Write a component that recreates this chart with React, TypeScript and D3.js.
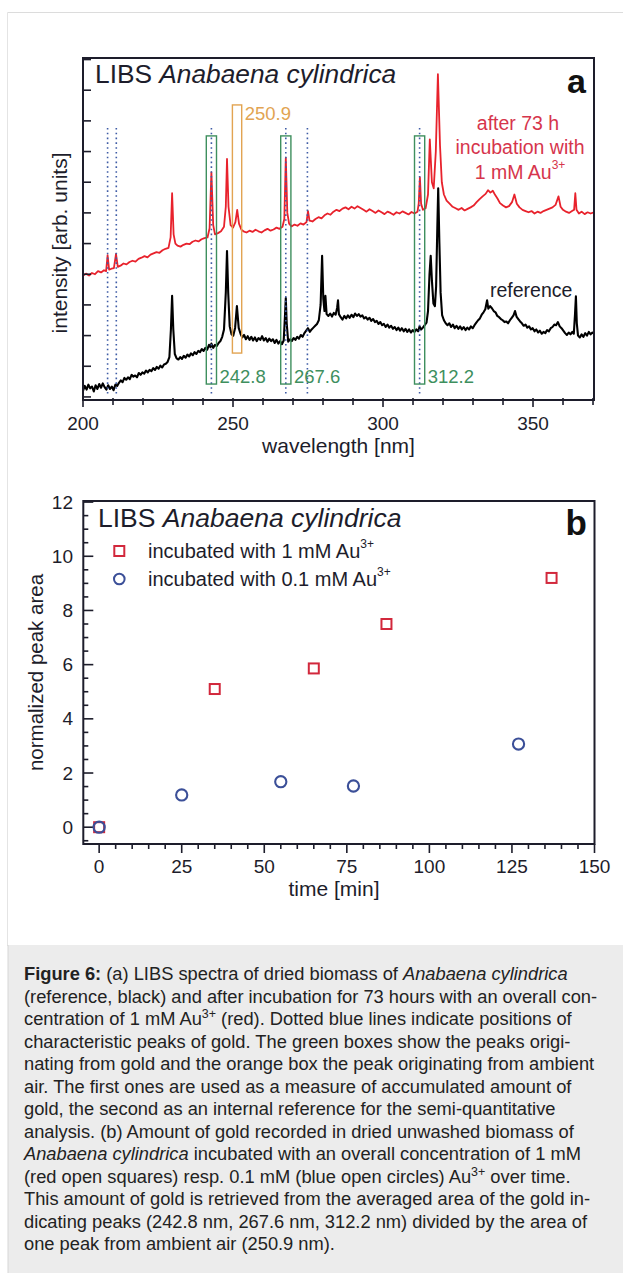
import React from 'react';
import * as d3 from 'd3';

const FONT = '"Liberation Sans", Arial, Helvetica, sans-serif';

// ---------- Panel a data ----------
const redSpectrum: [number, number][] = [
  [200, 39.5], [201, 40.2], [202, 39.6], [203, 40.4], [204, 40.0], [205, 41.0], [206, 40.6], [207, 41.3],
  [207.7, 41.0], [208.2, 46.2], [208.7, 41.5], [209.5, 41.8], [210.3, 42.0], [211.0, 46.6], [211.6, 42.4],
  [212.5, 42.8], [213.5, 43.5], [214.5, 43.2], [215.5, 44.0], [216.5, 44.4], [217.5, 44.1], [218.5, 45.0],
  [219.5, 45.4], [220.5, 45.9], [221.5, 45.5], [222.5, 46.4], [223.5, 46.8], [224.5, 47.2], [225.5, 47.0],
  [226.5, 47.8], [227.5, 48.3], [228.5, 48.6], [229.2, 52.0], [229.7, 66.4], [230.2, 53.0], [230.8, 50.0],
  [231.5, 49.3], [232.5, 49.0], [233.5, 49.6], [234.5, 50.0], [235.5, 49.8], [236.5, 50.6], [237.5, 51.0],
  [238.5, 50.7], [239.5, 51.4], [240.5, 51.8], [241.5, 52.0], [242.2, 55.0], [242.8, 73.2], [243.4, 56.0],
  [244.0, 53.0], [245.0, 53.4], [246.0, 54.0], [247.0, 55.5], [247.6, 62.0], [248.0, 77.6], [248.5, 62.0],
  [249.2, 56.0], [250.0, 55.2], [250.8, 57.0], [251.4, 61.0], [252.0, 56.5], [252.8, 54.5], [253.5, 54.0],
  [254.5, 53.6], [255.5, 54.2], [256.5, 53.8], [257.5, 54.5], [258.5, 54.0], [259.5, 53.6], [260.5, 54.3],
  [261.5, 54.8], [262.5, 54.2], [263.5, 54.6], [264.5, 55.2], [265.5, 54.8], [266.5, 55.5], [267.1, 58.0],
  [267.6, 78.0], [268.1, 60.0], [268.7, 56.5], [269.5, 55.6], [270.5, 56.2], [271.5, 55.8], [272.5, 56.6],
  [273.5, 56.2], [274.5, 57.0], [275.0, 60.6], [275.5, 57.5], [276.5, 57.2], [277.5, 58.0], [278.5, 58.6],
  [279.5, 58.2], [280.5, 59.2], [281.5, 59.8], [282.5, 59.4], [283.5, 60.4], [284.5, 61.0], [285.5, 60.6],
  [286.5, 61.4], [287.5, 61.8], [288.5, 61.2], [289.5, 62.0], [290.5, 61.4], [291.5, 62.2], [292.5, 61.6],
  [293.5, 61.0], [294.5, 60.4], [295.5, 61.2], [296.5, 60.6], [297.5, 60.0], [298.5, 60.8], [299.5, 60.2],
  [300.5, 59.6], [301.5, 60.4], [302.5, 60.0], [303.5, 59.4], [304.5, 60.2], [305.5, 59.8], [306.5, 60.5],
  [307.5, 60.0], [308.5, 59.5], [309.5, 60.3], [310.5, 59.8], [311.5, 60.4], [311.9, 63.0], [312.3, 71.6],
  [312.7, 63.0], [313.3, 61.0], [314.2, 61.5], [315.0, 66.0], [315.6, 84.0], [316.3, 70.0], [316.9, 68.0],
  [317.6, 80.0], [318.3, 105.2], [319.0, 82.0], [319.6, 70.0], [320.3, 66.0], [321.2, 64.0], [322.2, 63.0],
  [323.2, 62.0], [324.2, 61.5], [325.2, 61.0], [326.2, 61.6], [327.2, 60.8], [328.2, 61.3], [329.2, 61.8],
  [330.2, 62.4], [331.2, 63.5], [332.2, 64.5], [333.2, 65.4], [334.2, 66.2], [335.0, 67.4], [335.8, 66.6],
  [336.6, 67.2], [337.4, 65.8], [338.2, 64.6], [339.0, 63.2], [340.0, 62.4], [341.0, 61.8], [342.0, 62.2],
  [343.0, 63.5], [343.8, 66.0], [344.6, 63.0], [345.5, 61.8], [346.5, 61.0], [347.5, 60.6], [348.5, 60.2],
  [349.5, 60.6], [350.5, 59.8], [351.5, 60.4], [352.5, 60.0], [353.5, 60.6], [354.5, 61.0], [355.5, 61.4],
  [356.5, 61.8], [357.5, 62.6], [358.5, 65.4], [359.2, 62.0], [360.0, 61.0], [361.0, 60.4], [362.0, 60.0],
  [363.0, 60.6], [363.7, 61.0], [364.1, 66.4], [364.5, 61.0], [365.3, 59.8], [366.2, 60.4], [367.2, 59.6],
  [368.2, 60.2], [369.2, 59.8], [370.3, 60.2],
];

const blackSpectrum: [number, number][] = [
  [200, 2.0], [200.6, 3.6], [201.2, 2.4], [201.8, 4.0], [202.4, 2.8], [203, 3.4], [203.6, 1.8], [204.2, 3.8],
  [204.8, 2.6], [205.4, 4.2], [206, 3.0], [206.6, 4.4], [207.2, 3.2], [207.8, 2.4], [208.4, 3.8], [209, 2.6],
  [209.6, 3.4], [210.2, 2.2], [210.8, 4.0], [211.4, 3.6], [212, 4.6], [212.6, 5.4], [213.2, 4.8], [213.8, 6.2],
  [214.4, 5.6], [215, 6.4], [215.6, 5.8], [216.2, 7.2], [216.8, 6.6], [217.4, 7.0], [218, 6.4], [218.6, 7.8],
  [219.2, 7.2], [219.8, 8.0], [220.4, 7.6], [221, 8.6], [221.6, 8.0], [222.2, 8.8], [222.8, 8.4], [223.4, 9.4],
  [224, 8.8], [224.6, 9.8], [225.2, 9.2], [225.8, 10.2], [226.4, 9.6], [227, 10.6], [227.6, 10.8], [228.2, 11.4],
  [228.8, 13.0], [229.3, 22.0], [229.7, 33.0], [230.1, 22.0], [230.6, 14.0], [231.2, 12.6], [231.8, 12.2],
  [232.4, 13.0], [233, 12.4], [233.6, 13.4], [234.2, 12.8], [234.8, 13.8], [235.4, 13.2], [236, 14.2],
  [236.6, 13.6], [237.2, 14.6], [237.8, 14.0], [238.4, 15.0], [239, 14.6], [239.6, 15.6], [240.2, 15.0],
  [240.8, 16.0], [241.4, 15.4], [242.0, 17.0], [242.5, 16.2], [242.8, 17.4], [243.4, 16.0], [244, 17.0],
  [244.6, 16.6], [245.2, 17.6], [245.8, 18.2], [246.4, 19.6], [247, 22.0], [247.6, 34.0], [248.0, 47.6],
  [248.4, 34.0], [248.9, 23.0], [249.5, 20.4], [250.1, 20.0], [250.7, 22.5], [251.3, 29.6], [251.9, 22.5],
  [252.5, 20.6], [253.1, 19.4], [253.7, 20.2], [254.3, 18.8], [254.9, 19.8], [255.5, 18.6], [256.1, 19.6],
  [256.7, 18.4], [257.3, 19.4], [257.9, 18.2], [258.5, 19.2], [259.1, 18.6], [259.7, 19.8], [260.3, 18.4],
  [260.9, 19.2], [261.5, 18.0], [262.1, 19.0], [262.7, 18.2], [263.3, 18.8], [263.9, 17.6], [264.5, 18.6],
  [265.1, 17.4], [265.7, 18.2], [266.3, 17.2], [266.9, 18.4], [267.3, 26.0], [267.6, 32.2], [267.9, 24.0],
  [268.4, 18.0], [269, 18.8], [269.6, 18.2], [270.2, 19.2], [270.8, 18.6], [271.4, 19.6], [272, 19.0],
  [272.6, 20.2], [273.2, 19.6], [273.8, 20.8], [274.4, 21.6], [275, 22.4], [275.6, 21.2], [276.2, 22.0],
  [276.8, 22.6], [277.4, 23.2], [278, 23.8], [278.6, 25.0], [279.2, 30.0], [279.7, 46.0], [280.1, 32.0],
  [280.5, 28.0], [280.8, 33.0], [281.2, 27.0], [281.8, 26.4], [282.4, 27.2], [283, 26.2], [283.6, 27.4],
  [284.2, 26.8], [284.7, 29.0], [285.0, 31.5], [285.3, 27.0], [285.9, 26.0], [286.5, 25.2], [287.1, 26.4],
  [287.7, 25.6], [288.3, 26.6], [288.9, 25.8], [289.5, 26.8], [290.1, 26.0], [290.7, 27.2], [291.3, 26.4],
  [291.9, 27.0], [292.5, 26.2], [293.1, 26.6], [293.7, 25.6], [294.3, 26.0], [294.9, 25.2], [295.5, 25.8],
  [296.1, 24.8], [296.7, 25.4], [297.3, 24.4], [297.9, 24.8], [298.5, 23.8], [299.1, 24.4], [299.7, 23.4],
  [300.3, 23.8], [300.9, 22.8], [301.5, 23.6], [302.1, 22.6], [302.7, 23.2], [303.3, 22.2], [303.9, 22.8],
  [304.5, 21.8], [305.1, 22.6], [305.7, 21.6], [306.3, 22.4], [306.9, 21.4], [307.5, 22.2], [308.1, 21.2],
  [308.7, 22.0], [309.3, 21.0], [309.9, 21.8], [310.5, 21.2], [311.1, 22.0], [311.7, 21.4], [312.2, 23.0],
  [312.7, 22.0], [313.3, 22.6], [313.9, 23.4], [314.5, 24.2], [315.0, 28.0], [315.5, 40.0], [315.9, 46.0],
  [316.3, 38.0], [316.8, 30.5], [317.3, 29.6], [317.7, 36.0], [318.1, 55.0], [318.4, 68.0], [318.8, 50.0],
  [319.2, 34.0], [319.7, 26.7], [320.3, 25.0], [320.9, 24.0], [321.5, 23.4], [322.1, 24.0], [322.7, 22.8],
  [323.3, 23.6], [323.9, 22.4], [324.5, 23.2], [325.1, 22.2], [325.7, 23.0], [326.3, 22.0], [326.9, 22.8],
  [327.5, 21.8], [328.1, 22.6], [328.7, 22.0], [329.3, 23.0], [329.9, 22.4], [330.5, 23.4], [331.1, 24.2],
  [331.7, 25.0], [332.3, 25.6], [332.9, 26.8], [333.5, 27.6], [334.1, 28.6], [334.7, 31.5], [335.1, 28.8],
  [335.7, 29.6], [336.3, 28.9], [336.9, 28.0], [337.5, 27.6], [338.1, 26.4], [338.7, 26.0], [339.3, 25.4],
  [339.9, 25.0], [340.5, 24.4], [341.1, 24.6], [341.7, 24.0], [342.3, 25.0], [342.9, 25.8], [343.5, 26.6],
  [344.0, 28.0], [344.5, 26.2], [345.1, 25.4], [345.7, 24.6], [346.3, 24.0], [346.9, 23.2], [347.5, 23.6],
  [348.1, 22.6], [348.7, 23.0], [349.3, 22.0], [349.9, 22.4], [350.5, 21.4], [351.1, 22.0], [351.7, 21.0],
  [352.3, 21.6], [352.9, 20.6], [353.5, 21.2], [354.1, 20.8], [354.7, 21.8], [355.3, 21.4], [355.9, 22.4],
  [356.5, 22.8], [357.1, 23.6], [357.7, 23.4], [358.3, 24.4], [358.9, 23.0], [359.5, 22.4], [360.1, 21.6],
  [360.7, 20.8], [361.3, 20.2], [361.9, 21.0], [362.5, 20.4], [363.1, 21.2], [363.6, 20.6], [364.0, 27.0],
  [364.3, 32.8], [364.6, 24.0], [365.0, 20.0], [365.6, 19.4], [366.2, 20.4], [366.8, 19.6], [367.4, 20.8],
  [368.0, 20.0], [368.6, 21.2], [369.2, 20.4], [369.8, 21.0], [370.3, 20.6],
];

const goldLines = [208.2, 211.1, 242.8, 267.6, 274.8, 312.2];
const goldBoxes = [242.8, 267.6, 312.2];
const goldBoxLabels = ['242.8', '267.6', '312.2'];
const airBox = [249.8, 252.9];
const airBoxLabel = '250.9';
const wavelengthMajor = [200, 250, 300, 350];
const wavelengthMinor = [200, 210, 220, 230, 240, 250, 260, 270, 280, 290, 300, 310, 320, 330, 340, 350, 360, 370];
const intensityTicks = [0, 10, 20, 30, 40, 50, 60, 70, 80, 90, 100, 110];

// ---------- Panel b data ----------
const time1mM = [0, 35, 65, 87, 137];
const area1mM = [0, 5.1, 5.86, 7.5, 9.2];
const time01mM = [0, 25, 55, 77, 127];
const area01mM = [0, 1.19, 1.68, 1.52, 3.07];
const timeMajor = [0, 25, 50, 75, 100, 125, 150];
const timeMinor = [0, 5, 10, 15, 20, 25, 30, 35, 40, 45, 50, 55, 60, 65, 70, 75, 80, 85, 90, 95, 100, 105, 110, 115, 120, 125, 130, 135, 140, 145, 150];
const areaMajor = [0, 2, 4, 6, 8, 10, 12];
const areaMinor = [-0.5, 0, 0.5, 1, 1.5, 2, 2.5, 3, 3.5, 4, 4.5, 5, 5.5, 6, 6.5, 7, 7.5, 8, 8.5, 9, 9.5, 10, 10.5, 11, 11.5, 12];

type Seg = { t: string; b?: boolean; i?: boolean; sup?: boolean };
const captionLines: Seg[][] = [
  [{ t: 'Figure 6:', b: true }, { t: ' (a) LIBS spectra of dried biomass of ' }, { t: 'Anabaena cylindrica', i: true }],
  [{ t: '(reference, black) and after incubation for 73 hours with an overall con-' }],
  [{ t: 'centration of 1 mM Au' }, { t: '3+', sup: true }, { t: ' (red). Dotted blue lines indicate positions of' }],
  [{ t: 'characteristic peaks of gold. The green boxes show the peaks origi-' }],
  [{ t: 'nating from gold and the orange box the peak originating from ambient' }],
  [{ t: 'air. The first ones are used as a measure of accumulated amount of' }],
  [{ t: 'gold, the second as an internal reference for the semi-quantitative' }],
  [{ t: 'analysis. (b) Amount of gold recorded in dried unwashed biomass of' }],
  [{ t: 'Anabaena cylindrica', i: true }, { t: ' incubated with an overall concentration of 1 mM' }],
  [{ t: '(red open squares) resp. 0.1 mM (blue open circles) Au' }, { t: '3+', sup: true }, { t: ' over time.' }],
  [{ t: 'This amount of gold is retrieved from the averaged area of the gold in-' }],
  [{ t: 'dicating peaks (242.8 nm, 267.6 nm, 312.2 nm) divided by the area of' }],
  [{ t: 'one peak from ambient air (250.9 nm).' }],
];

const INK = '#1d1d2b';
const RED_LINE = '#e8222c';
const RED_TEXT = '#d6354c';
const BLUE_DOT = '#3f5ca6';
const GREEN = '#3e8f5e';
const ORANGE = '#e2a452';
const SQ_RED = '#d2283c';
const CIRC_BLUE = '#3b4f98';

function Caption({ lines, x, y0, dy, size }: { lines: Seg[][]; x: number; y0: number; dy: number; size: number }) {
  return (
    <g fontFamily={FONT} fontSize={size} fill="#222">
      {lines.map((segs, li) => {
        const out: React.ReactNode[] = [];
        let raised = false;
        segs.forEach((s, si) => {
          let shift = 0;
          if (s.sup && !raised) { shift = -7; raised = true; }
          else if (!s.sup && raised) { shift = 7; raised = false; }
          out.push(
            <tspan key={si} dy={shift} fontWeight={s.b ? 'bold' : 'normal'} fontStyle={s.i ? 'italic' : 'normal'}
              fontSize={s.sup ? size * 0.68 : size}>{s.t}</tspan>
          );
        });
        return (
          <text key={li} x={x} y={y0 + li * dy} style={{ whiteSpace: 'pre' }}>{out}</text>
        );
      })}
    </g>
  );
}

export default function App() {
  // Panel a scales
  const xA = d3.scaleLinear().domain([200, 370.33]).range([83, 594]);
  const yA = d3.scaleLinear().domain([-1, 110.5]).range([400, 58]);
  const lineA = d3.line<[number, number]>().x((d) => xA(d[0])).y((d) => yA(d[1]));

  // Panel b scales
  const xB = d3.scaleLinear().domain([-4.8, 150]).range([83.3, 594.5]);
  const yB = d3.scaleLinear().domain([-0.62, 12.04]).range([844, 501]);

  const aLeft = xA.range()[0], aRight = xA.range()[1];
  const aTop = yA.range()[1], aBottom = yA.range()[0];
  const bLeft = xB.range()[0], bRight = xB.range()[1];
  const bTop = yB.range()[1], bBottom = yB.range()[0];

  const goldTop = 85.1, goldBottom = 4.2;
  const airTop = 95.2, airBottom = 14.3;
  const dotTop = 87.7, dotBottom = 0.6;

  return (
    <svg width={623} height={1273} style={{ position: 'absolute', left: 0, top: 0, background: '#fff' }}>
      {/* figure frame */}
      <line x1={7.5} x2={623} y1={12.5} y2={12.5} stroke="#dcdcdc" />
      <line x1={7.5} x2={7.5} y1={12.5} y2={946} stroke="#e4e4e4" />
      <rect x={8} y={945} width={615} height={328} fill="#ececec" />
      <line x1={8} x2={8} y1={945} y2={1273} stroke="#d6d6d6" />

      {/* ---------------- Panel a ---------------- */}
      <defs>
        <clipPath id="clipA">
          <rect x={aLeft} y={aTop} width={aRight - aLeft} height={aBottom - aTop} />
        </clipPath>
      </defs>
      <g clipPath="url(#clipA)">
        <path d={lineA(blackSpectrum) || ''} fill="none" stroke="#000" strokeWidth={2.1} strokeLinejoin="round" />
        <path d={lineA(redSpectrum) || ''} fill="none" stroke={RED_LINE} strokeWidth={1.8} strokeLinejoin="round" />
      </g>
      {goldLines.map((w) => (
        <line key={w} x1={xA(w)} x2={xA(w)} y1={yA(dotTop)} y2={yA(dotBottom)} stroke={BLUE_DOT}
          strokeWidth={1.6} strokeDasharray="1.6 3.2" />
      ))}
      {goldBoxes.map((w, i) => (
        <g key={w}>
          <rect x={xA(w - 1.7)} y={yA(goldTop)} width={xA(w + 1.7) - xA(w - 1.7)} height={yA(goldBottom) - yA(goldTop)}
            fill="none" stroke={GREEN} strokeWidth={1.4} />
          <text x={xA(w + 1.7) + 3} y={yA(goldBottom) - 1} fontFamily={FONT} fontSize={18.5} fill={GREEN}>{goldBoxLabels[i]}</text>
        </g>
      ))}
      <rect x={xA(airBox[0])} y={yA(airTop)} width={xA(airBox[1]) - xA(airBox[0])} height={yA(airBottom) - yA(airTop)}
        fill="none" stroke={ORANGE} strokeWidth={1.4} />
      <text x={xA(airBox[1]) + 3} y={yA(airTop) + 15} fontFamily={FONT} fontSize={18.5} fill={ORANGE}>{airBoxLabel}</text>

      {/* axes a */}
      {intensityTicks.map((t) => (
        <line key={t} x1={aLeft} x2={aLeft + 8} y1={yA(t)} y2={yA(t)} stroke={INK} strokeWidth={1.6} />
      ))}
      {wavelengthMinor.map((t) => (
        <line key={t} x1={xA(t)} x2={xA(t)} y1={aBottom - 2} y2={aBottom + (wavelengthMajor.includes(t) ? 7 : 5)} stroke={INK} strokeWidth={1.6} />
      ))}
      <rect x={aLeft} y={aTop} width={aRight - aLeft} height={aBottom - aTop} fill="none" stroke={INK} strokeWidth={2} />
      {wavelengthMajor.map((t) => (
        <text key={t} x={xA(t)} y={430} textAnchor="middle" fontFamily={FONT} fontSize={19} fill={INK}>{t}</text>
      ))}
      <text x={(aLeft + aRight) / 2} y={453} textAnchor="middle" fontFamily={FONT} fontSize={21} fill={INK}>wavelength [nm]</text>
      <text transform={`translate(66.5, ${(aTop + aBottom) / 2 + 14}) rotate(-90)`} textAnchor="middle" fontFamily={FONT} fontSize={21} fill={INK}>intensity [arb. units]</text>

      <text x={95} y={83} fontFamily={FONT} fontSize={26.3} fill={INK}>
        LIBS <tspan fontStyle="italic">Anabaena cylindrica</tspan>
      </text>
      <text x={586} y={93} textAnchor="end" fontFamily={FONT} fontSize={34} fontWeight="bold" fill="#111">a</text>

      <g fontFamily={FONT} fontSize={19.5} fill={RED_TEXT} textAnchor="middle">
        <text x={518} y={129.5}>after 73 h</text>
        <text x={520} y={153.5}>incubation with</text>
        <text x={520} y={179}>1 mM Au<tspan dy={-10} fontSize={12}>3+</tspan></text>
      </g>
      <text x={490} y={297} fontFamily={FONT} fontSize={19.5} fill={INK}>reference</text>

      {/* ---------------- Panel b ---------------- */}
      {areaMinor.map((t) => (
        <line key={t} x1={bLeft} x2={bLeft + (areaMajor.includes(t) ? 10 : 5)} y1={yB(t)} y2={yB(t)} stroke={INK} strokeWidth={1.6} />
      ))}
      {timeMinor.map((t) => (
        <line key={t} x1={xB(t)} x2={xB(t)} y1={bBottom} y2={bBottom + (timeMajor.includes(t) ? 9 : 5)} stroke={INK} strokeWidth={1.6} />
      ))}
      <rect x={bLeft} y={bTop} width={bRight - bLeft} height={bBottom - bTop} fill="none" stroke={INK} strokeWidth={2} />
      {areaMajor.map((t) => (
        <text key={t} x={73} y={yB(t) + 6.5} textAnchor="end" fontFamily={FONT} fontSize={19} fill={INK}>{t}</text>
      ))}
      {timeMajor.map((t) => (
        <text key={t} x={xB(t)} y={873} textAnchor="middle" fontFamily={FONT} fontSize={19} fill={INK}>{t}</text>
      ))}
      <text x={334} y={896} textAnchor="middle" fontFamily={FONT} fontSize={21} fill={INK}>time [min]</text>
      <text transform={`translate(43, ${(bTop + bBottom) / 2}) rotate(-90)`} textAnchor="middle" fontFamily={FONT} fontSize={20.5} fill={INK}>normalized peak area</text>

      <text x={98} y={527} fontFamily={FONT} fontSize={26.5} fill={INK}>
        LIBS <tspan fontStyle="italic">Anabaena cylindrica</tspan>
      </text>
      <text x={587} y={535} textAnchor="end" fontFamily={FONT} fontSize={35} fontWeight="bold" fill="#111">b</text>

      {/* legend */}
      <rect x={114.3} y={546} width={10} height={10} fill="none" stroke={SQ_RED} strokeWidth={2} />
      <text x={148} y={558} fontFamily={FONT} fontSize={20} fill={INK}>incubated with 1 mM Au<tspan dy={-10} fontSize={12}>3+</tspan></text>
      <circle cx={119.3} cy={579} r={5.3} fill="none" stroke={CIRC_BLUE} strokeWidth={2} />
      <text x={148} y={586} fontFamily={FONT} fontSize={20} fill={INK}>incubated with 0.1 mM Au<tspan dy={-10} fontSize={12}>3+</tspan></text>

      {time1mM.map((t, i) => (
        <rect key={'s' + i} x={xB(t) - 5} y={yB(area1mM[i]) - 5} width={10} height={10} fill="none" stroke={SQ_RED} strokeWidth={2} />
      ))}
      {time01mM.map((t, i) => (
        <circle key={'c' + i} cx={xB(t)} cy={yB(area01mM[i])} r={5.6} fill="none" stroke={CIRC_BLUE} strokeWidth={2.1} />
      ))}

      {/* caption */}
      <Caption lines={captionLines} x={24} y0={980} dy={22.5} size={18.3} />
    </svg>
  );
}
